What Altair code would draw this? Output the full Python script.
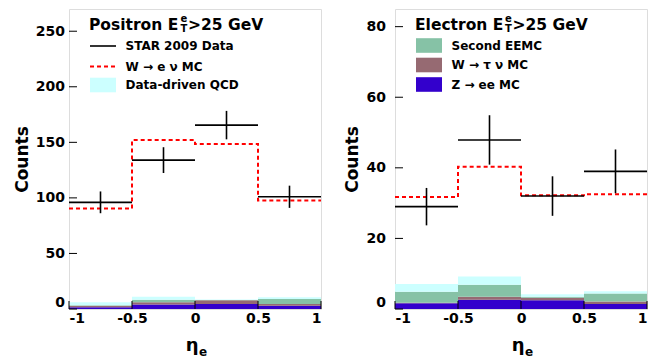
import altair as alt
import pandas as pd

# ---------------- data ----------------
bin_lo = [-1.0, -0.5, 0.0, 0.5]
bin_hi = [-0.5, 0.0, 0.5, 1.0]
x_edges = [-1.0, -0.5, 0.0, 0.5, 1.0]
x_ticks = [-1.0, -0.5, 0.0, 0.5, 1.0]

# Positron panel
pos_data = [96.0, 134.0, 165.5, 101.0]
pos_err = [9.8, 11.6, 12.8, 10.0]
pos_mc = [90.5, 152.0, 148.5, 97.7]
pos_z = [1.5, 4.0, 4.6, 3.0]
pos_tau = [1.5, 2.0, 3.2, 1.6]
pos_eemc = [0.3, 2.4, 0.4, 4.5]
pos_qcd = [2.7, 2.7, 0.4, 1.4]
pos_yticks = [0, 50, 100, 150, 200, 250]

# Electron panel
ele_data = [29.0, 47.9, 32.0, 39.0]
ele_err = [5.3, 7.0, 5.6, 6.2]
ele_mc = [31.7, 40.3, 32.2, 32.5]
ele_z = [1.6, 2.6, 2.5, 1.4]
ele_tau = [0.2, 0.9, 0.7, 0.7]
ele_eemc = [3.1, 3.4, 0.3, 2.3]
ele_qcd = [2.2, 2.3, 0.7, 0.6]
ele_yticks = [0, 20, 40, 60, 80]

comp_names = ["Z → ee MC", "W → τ ν MC", "Second EEMC", "Data-driven QCD"]
comp_colors = ["#3300cc", "#966a72", "#86c2a6", "#ccffff"]

W, H = 252, 300
FONT = "DejaVu Sans"


def text(s, x, y, size, align="left", baseline="alphabetic", weight="bold"):
    return alt.Chart(pd.DataFrame({"t": [s]})).mark_text(
        align=align, baseline=baseline, font=FONT, fontSize=size,
        fontWeight=weight, color="black"
    ).encode(x=alt.value(x), y=alt.value(y), text="t:N")


def panel(data, err, mc, comps, yticks, ymax, title_parts, legend_rows, label_pad, title_pad):
    xs = alt.Scale(domain=[-1, 1], nice=False, zero=False)
    ys = alt.Scale(domain=[0, ymax], nice=False, zero=False)
    xax = alt.Axis(values=x_ticks, labelExpr="toString(datum.value)", ticks=False, tickSize=0,
                   domain=False, grid=False, labelPadding=2, title=None,
                   labelFont=FONT, labelFontSize=14, labelFontWeight="bold", labelColor="black")
    yax = alt.Axis(values=yticks, ticks=False, tickSize=0, domain=False, grid=False,
                   labelPadding=label_pad, labelFlush=True,
                   labelFont=FONT, labelFontSize=14, labelFontWeight="bold", labelColor="black",
                   title="Counts", titleFont=FONT, titleFontSize=17, titleFontWeight="bold",
                   titleColor="black", titlePadding=title_pad)

    # stacked backgrounds
    rows = []
    for ci, vals in enumerate(comps):
        for b in range(4):
            base = sum(comps[k][b] for k in range(ci))
            rows.append({"lo": bin_lo[b], "hi": bin_hi[b], "y0": base, "y1": base + vals[b],
                         "comp": comp_names[ci]})
    stack_df = pd.DataFrame(rows)
    stack = alt.Chart(stack_df).mark_rect(strokeWidth=0).encode(
        x=alt.X("lo:Q", scale=xs, axis=xax),
        x2="hi:Q",
        y=alt.Y("y0:Q", scale=ys, axis=yax),
        y2="y1:Q",
        color=alt.Color("comp:N", scale=alt.Scale(domain=comp_names, range=comp_colors), legend=None),
    )

    mc_df = pd.DataFrame({"x": x_edges, "mc": mc + [mc[-1]]})
    mc_line = alt.Chart(mc_df).mark_line(
        interpolate="step-after", color="#ff0000", strokeDash=[4, 3], strokeWidth=2
    ).encode(x=alt.X("x:Q", scale=xs), y=alt.Y("mc:Q", scale=ys))

    d_df = pd.DataFrame({"lo": bin_lo, "hi": bin_hi,
                         "c": [(a + b) / 2 for a, b in zip(bin_lo, bin_hi)],
                         "v": data, "e": err})
    d_df["vlo"] = d_df["v"] - d_df["e"]
    d_df["vhi"] = d_df["v"] + d_df["e"]
    h_bar = alt.Chart(d_df).mark_rule(color="black", strokeWidth=1.6).encode(
        x=alt.X("lo:Q", scale=xs), x2="hi:Q", y=alt.Y("v:Q", scale=ys))
    v_bar = alt.Chart(d_df).mark_rule(color="black", strokeWidth=1.6).encode(
        x=alt.X("c:Q", scale=xs), y=alt.Y("vlo:Q", scale=ys), y2="vhi:Q")

    yt = alt.Chart(pd.DataFrame({"v": yticks})).mark_rule(color="black", strokeWidth=1).encode(
        y=alt.Y("v:Q", scale=ys), x=alt.value(0), x2=alt.value(8))
    xt = alt.Chart(pd.DataFrame({"v": x_ticks})).mark_rule(color="black", strokeWidth=1).encode(
        x=alt.X("v:Q", scale=xs), y=alt.value(H), y2=alt.value(H - 8))

    layers = [stack, mc_line, h_bar, v_bar, yt, xt]

    # title with sub/superscript
    word, xs_scr = title_parts
    layers.append(text(word, 20, 20.5, 15.5))
    layers.append(text("e", xs_scr, 12.5, 10))
    layers.append(text("T", xs_scr, 22.5, 10))
    layers.append(text(">25 GeV", xs_scr + 7.5, 20.5, 15.5))

    # legend
    for kind, payload, label, yc in legend_rows:
        if kind == "line":
            layers.append(alt.Chart(pd.DataFrame({"a": [0]})).mark_rule(
                color=payload, strokeWidth=1.6).encode(
                x=alt.value(21), x2=alt.value(47), y=alt.value(yc)))
        elif kind == "dash":
            layers.append(alt.Chart(pd.DataFrame({"a": [0]})).mark_rule(
                color=payload, strokeWidth=2, strokeDash=[4, 3]).encode(
                x=alt.value(21), x2=alt.value(47), y=alt.value(yc)))
        else:
            layers.append(alt.Chart(pd.DataFrame({"a": [0]})).mark_rect(
                color=payload, strokeWidth=0).encode(
                x=alt.value(21), x2=alt.value(47), y=alt.value(yc - 7.3), y2=alt.value(yc + 7.3)))
        layers.append(text(label, 56.5, yc, 12, baseline="middle"))

    # x-axis title eta_e
    layers.append(text("η", 129.5, 341.5, 18, align="right"))
    layers.append(text("e", 130, 346.5, 12, align="left"))

    return alt.layer(*layers).properties(width=W, height=H)


left = panel(
    pos_data, pos_err, pos_mc, [pos_z, pos_tau, pos_eemc, pos_qcd], pos_yticks, 270,
    ("Positron E", 111.5),
    [("line", "black", "STAR 2009 Data", 37),
     ("dash", "#ff0000", "W → e ν MC", 57.5),
     ("rect", "#ccffff", "Data-driven QCD", 76)],
    4.5, 4,
)

right = panel(
    ele_data, ele_err, ele_mc, [ele_z, ele_tau, ele_eemc, ele_qcd], ele_yticks, 85,
    ("Electron E", 110),
    [("rect", "#86c2a6", "Second EEMC", 36.5),
     ("rect", "#966a72", "W → τ ν MC", 56),
     ("rect", "#3300cc", "Z → ee MC", 75.5)],
    9.5, 5,
)

chart = alt.hconcat(left, right, spacing=16).resolve_scale(
    x="independent", y="independent", color="independent"
).properties(
    padding={"left": 12, "top": 8, "right": 0, "bottom": 0}
).configure_view(stroke="black", strokeWidth=1.2).configure(background="white")

chart.save("out.html", embed_options={"renderer": "svg", "actions": False})
